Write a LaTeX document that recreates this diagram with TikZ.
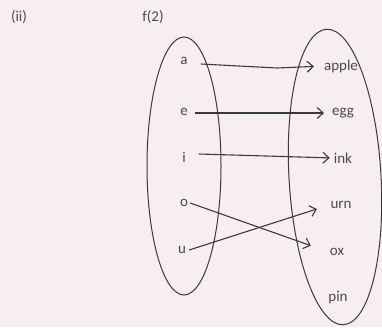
\documentclass[tikz,border=0pt]{standalone}
\usepackage{fontspec}
\setmainfont{Carlito}
\usetikzlibrary{arrows.meta}
\definecolor{bg}{HTML}{F6EEF3}
\definecolor{ink}{HTML}{3A3A3A}
\definecolor{txt}{HTML}{4A4A4A}
\begin{document}
\begin{tikzpicture}[x=1pt,y=-1pt,
  lbl/.style={text=txt,font=\fontsize{15}{15}\selectfont,inner sep=1pt},
  setline/.style={draw=ink,line width=1pt},
  mapto/.style={draw=ink,line width=1.1pt,-{Straight Barb[length=6pt,width=11pt,line width=1.1pt]}}]
\fill[bg] (0,0) rectangle (382,327);
\useasboundingbox (0,0) rectangle (382,327);
\node[lbl] (ii) at (19,17) {(ii)};
\node[lbl] (f2) at (153,17) {f(2)};
\draw[setline] (184,166) ellipse [x radius=37, y radius=129];
\draw[setline,rotate around={3.3:(335,177)}] (335,177) ellipse [x radius=46, y radius=148];
\node[lbl] (a) at (184,61) {a};
\node[lbl] (e) at (184,112) {e};
\node[lbl] (i) at (184,157) {i};
\node[lbl] (o) at (184,203) {o};
\node[lbl] (u) at (182,250) {u};
\node[lbl] (apple) at (341,66) {apple};
\node[lbl] (egg) at (343,113) {egg};
\node[lbl] (ink) at (343,158) {ink};
\node[lbl] (urn) at (341,205) {urn};
\node[lbl] (ox) at (337,252) {ox};
\node[lbl] (pin) at (338,298) {pin};
\coordinate (ak) at (277,68);
\draw[mapto,shorten >=9pt] (a.east) ++(12,3) -- (ak) -- (apple.west);
\draw[mapto,shorten >=7pt] (e.east) ++(6,1) -- (egg.west);
\draw[mapto,shorten >=3pt] (i.east) ++(12,-3) -- (ink.west);
\draw[mapto,shorten >=19pt] (o.east) ++(1,0) -- (ox.west);
\draw[mapto,shorten >=13pt] (u.east) ++(2,0) -- (urn.west);
\end{tikzpicture}
\end{document}
